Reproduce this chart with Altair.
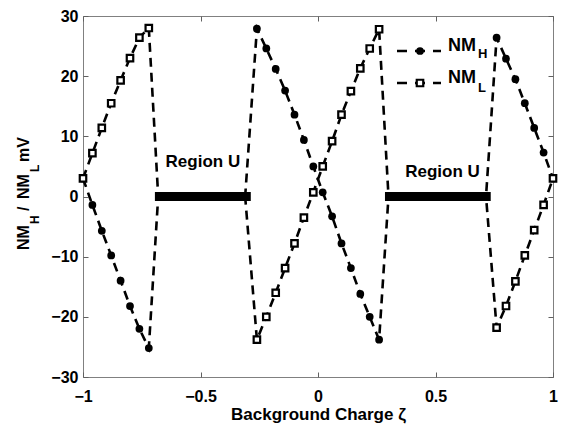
import altair as alt
import pandas as pd

FONT = "Liberation Sans"

# ---- data ----
x_left = [-1.0, -0.96, -0.92, -0.88, -0.84, -0.80, -0.76, -0.72]
nmh_left = [3.0, -1.4, -5.7, -9.8, -14.0, -18.2, -22.0, -25.2]
nml_left = [3.0, 7.2, 11.4, 15.5, 19.3, 23.0, 26.4, 28.0]

x_mid = [-0.26, -0.22, -0.18, -0.14, -0.10, -0.06, -0.02, 0.02, 0.06, 0.10, 0.14, 0.18, 0.22, 0.26]
nmh_mid = [27.9, 24.6, 21.2, 17.6, 13.6, 9.4, 5.0, 0.7, -3.3, -7.8, -11.9, -16.2, -20.0, -23.8]
nml_mid = [-23.8, -20.0, -16.0, -11.9, -7.8, -3.5, 0.7, 5.0, 9.2, 13.6, 17.5, 21.3, 24.6, 27.8]

x_right = [0.76, 0.80, 0.84, 0.88, 0.92, 0.96, 1.0]
nmh_right = [26.4, 22.9, 19.5, 15.5, 11.4, 7.3, 3.0]
nml_right = [-21.8, -18.2, -14.1, -9.8, -5.6, -1.4, 3.0]

# zero crossings where the curves meet the U regions
edge_x = [-0.68, -0.31, 0.30, 0.715]
edge_y = [0, 0, 0, 0]

# U regions (thick bars at 0)
region_x1 = [-0.694, 0.285]
region_x2 = [-0.286, 0.735]
region_y = [0, 0]
region_label = ["Region U", "Region U"]
region_label_x = [-0.49, 0.53]
region_label_y = [4.9, 3.2]

x_ticks = [-1, -0.5, 0, 0.5, 1]
y_ticks = [-30, -20, -10, 0, 10, 20, 30]


def line_rows(name, yl, ym, yr):
    xs = x_left + edge_x[:2] + x_mid + edge_x[2:] + x_right
    ys = yl + edge_y[:2] + ym + edge_y[2:] + yr
    return [{"series": name, "x": a, "y": b, "i": k} for k, (a, b) in enumerate(zip(xs, ys))]


line_df = pd.DataFrame(line_rows("NMH", nmh_left, nmh_mid, nmh_right)
                       + line_rows("NML", nml_left, nml_mid, nml_right))
h_df = pd.DataFrame({"x": x_left + x_mid + x_right, "y": nmh_left + nmh_mid + nmh_right})
l_df = pd.DataFrame({"x": x_left + x_mid + x_right, "y": nml_left + nml_mid + nml_right})
reg_df = pd.DataFrame({"x1": region_x1, "x2": region_x2, "y": region_y})
lab_df = pd.DataFrame({"x": region_label_x, "y": region_label_y, "t": region_label})

xscale = alt.Scale(domain=[-1, 1], nice=False, zero=False)
yscale = alt.Scale(domain=[-30, 30], nice=False, zero=False)
inward = alt.ExprRef(expr="-5")

X_main = alt.X("x:Q", scale=xscale,
               axis=alt.Axis(values=x_ticks, title="Background Charge ζ", tickSize=inward,
                             labelPadding=16, titlePadding=2, format="g", labelFlush=False))
Y_main = alt.Y("y:Q", scale=yscale,
               axis=alt.Axis(values=y_ticks, title="", tickSize=inward, labelPadding=10,
                             labelFlush=False))
X_n = alt.X("x:Q", scale=xscale, axis=None)
Y_n = alt.Y("y:Q", scale=yscale, axis=None)

lines = alt.Chart(line_df).mark_line(color="black", strokeWidth=2.6, strokeDash=[9, 6]).encode(
    x=X_main, y=Y_main, detail="series:N", order="i:Q")

bars = alt.Chart(reg_df).mark_rule(color="black", strokeWidth=9).encode(
    x=alt.X("x1:Q", scale=xscale, axis=None), x2="x2:Q", y=alt.Y("y:Q", scale=yscale, axis=None))

pts_h = alt.Chart(h_df).mark_point(shape="circle", filled=True, color="black", size=60, opacity=1).encode(
    x=X_n, y=Y_n)
pts_l = alt.Chart(l_df).mark_point(shape="square", fill="white", stroke="black", strokeWidth=2.2,
                                   size=42, opacity=1).encode(x=X_n, y=Y_n)

labels = alt.Chart(lab_df).mark_text(font=FONT, fontSize=17, fontWeight="bold", color="black",
                                     align="center", baseline="alphabetic").encode(
    x=X_n, y=Y_n, text="t:N")

# mirror ticks on top and right
mirror = alt.Chart(h_df).mark_point(opacity=0).encode(
    x=alt.X("x:Q", scale=xscale, axis=alt.Axis(orient="top", values=x_ticks, labels=False, title="",
                                               tickSize=inward, domain=False)),
    y=alt.Y("y:Q", scale=yscale, axis=alt.Axis(orient="right", values=y_ticks, labels=False, title="",
                                               tickSize=inward, domain=False)))

one = alt.Data(values=[{"a": 1}])


def txt(t, x, y, size, angle=0, align="left"):
    kw = dict(font=FONT, fontSize=size, fontWeight="bold", color="black", align=align,
              baseline="alphabetic", text=t)
    if angle:
        kw["angle"] = angle
    return alt.Chart(one).mark_text(**kw).encode(x=alt.value(x), y=alt.value(y))


# legend (drawn manually: dashed line + marker + subscript label)
leg = []
for ry, kind, sub, sy in [(35, "H", "H", 42), (67, "L", "L", 76)]:
    leg.append(alt.Chart(one).mark_rule(color="black", strokeWidth=2.6, strokeDash=[10, 8]).encode(
        x=alt.value(314), x2=alt.value(358), y=alt.value(ry)))
    if kind == "H":
        leg.append(alt.Chart(one).mark_point(shape="circle", filled=True, color="black", size=60,
                                             opacity=1).encode(x=alt.value(337), y=alt.value(ry)))
    else:
        leg.append(alt.Chart(one).mark_point(shape="square", fill="white", stroke="black", strokeWidth=2.2,
                                             size=42, opacity=1).encode(x=alt.value(337), y=alt.value(ry)))
    leg.append(txt("NM", 365, ry, 18))
    leg.append(txt(sub, 395, sy, 13))

# y axis title with subscripts
ytitle = [
    txt("NM", -54, 234, 16, 270),
    txt("H", -44, 208, 12, 270),
    txt("/", -54, 195, 16, 270),
    txt("NM", -54, 183, 16, 270),
    txt("L", -44, 156, 12, 270),
    txt("mV", -54, 146, 16, 270),
]

chart = alt.layer(lines, bars, pts_h, pts_l, labels, mirror, *leg, *ytitle).resolve_axis(
    x="independent", y="independent"
).properties(
    width=470, height=361,
    autosize=alt.AutoSizeParams(type="none"),
    padding={"left": 75, "top": 8, "right": 7, "bottom": 50},
).configure_view(stroke="#808080", strokeWidth=1).configure_axis(
    domain=False, grid=False, tickColor="#606060", tickWidth=1,
    labelFont=FONT, labelFontSize=16, labelFontWeight="bold", labelColor="black",
    titleFont=FONT, titleFontSize=17, titleFontWeight="bold", titleColor="black",
)

chart.save("out.html", embed_options={"renderer": "svg", "actions": False})
